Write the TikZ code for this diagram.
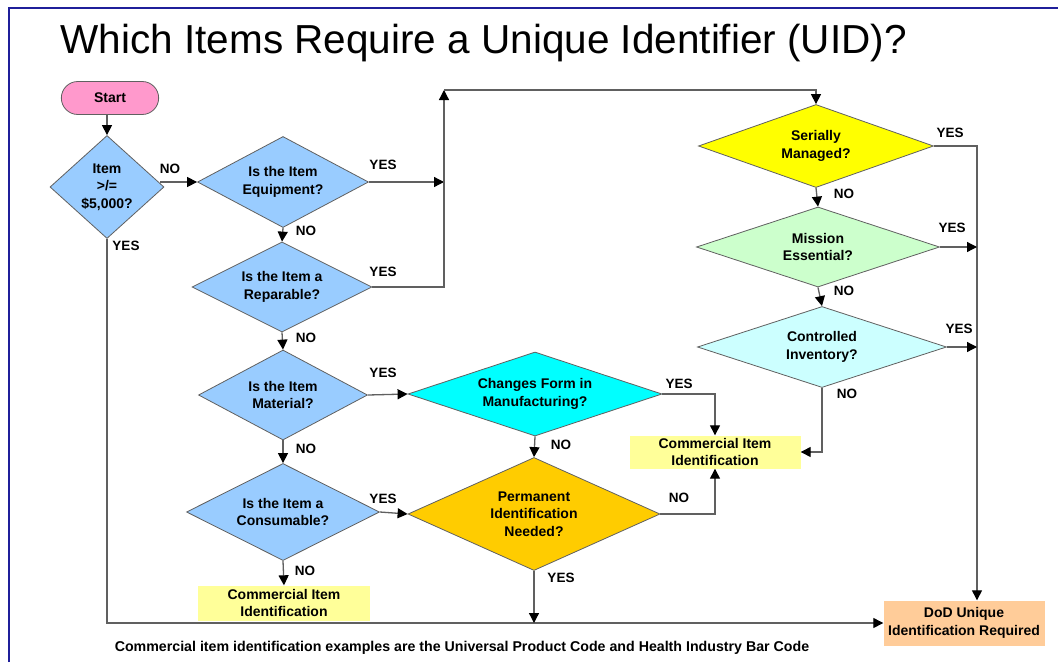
\documentclass[tikz,border=0pt]{standalone}
\usepackage{fontspec}
\setmainfont{Liberation Sans}
\usetikzlibrary{shapes.geometric,shapes.misc,arrows.meta}
\definecolor{framecol}{HTML}{1F1F9A}
\definecolor{linecol}{HTML}{606060}
\definecolor{pinkfill}{HTML}{FF99CC}
\definecolor{bluefill}{HTML}{99CCFF}
\definecolor{cyanfill}{HTML}{00FFFF}
\definecolor{goldfill}{HTML}{FFCC00}
\definecolor{yellowfill}{HTML}{FFFF00}
\definecolor{greenfill}{HTML}{CCFFCC}
\definecolor{icefill}{HTML}{CCFFFF}
\definecolor{paleyellow}{HTML}{FFFF99}
\definecolor{peach}{HTML}{FFCC99}
\begin{document}
\begin{tikzpicture}[x=1pt,y=-1pt,
  every node/.style={font=\fontsize{14}{17.5}\selectfont\bfseries, text=black},
  decision/.style={diamond, draw=linecol, line width=0.8pt, inner sep=0pt, align=center},
  dsize/.style n args={3}{minimum width=#1pt, minimum height=#2pt, aspect=#3},
  result/.style={rectangle, inner sep=0pt, align=center},
  conn/.style={draw=linecol, line width=1.3pt},
  arr/.style={conn, -{Triangle[length=10pt,width=10pt,color=black]}},
  ans/.style={font=\fontsize{13.5}{15}\selectfont\bfseries}
]
% page
\fill[white] (0,0) rectangle (1058,662);
\useasboundingbox (0,0) rectangle (1058,662);
\draw[framecol, line width=2pt] (9,662) -- (9,8) -- (1058,8);

% title
\node[anchor=base west, font=\fontsize{40.5}{44}\selectfont] (title) at (57,53)
  {Which Items Require a Unique Identifier (UID)?};

% start and left column of questions
\node[rounded rectangle, fill=pinkfill, draw=linecol, line width=0.8pt,
      minimum width=104pt, minimum height=33pt] (start) at (110,98) {Start};
\node[decision, fill=bluefill, dsize={114}{103}{1.1}] (d1) at (107,187)
  {Item\\>/=\\\$5,000?};
\node[decision, fill=bluefill, dsize={171}{91}{1.88}] (equip) at (283,182)
  {Is the Item\\Equipment?};
\node[decision, fill=bluefill, dsize={180}{90}{2.0}] (rep) at (282,287)
  {Is the Item a\\Reparable?};
\node[decision, fill=bluefill, dsize={169}{90}{1.88}] (mat) at (283,395)
  {Is the Item\\Material?};
\node[decision, fill=bluefill, dsize={193}{97}{1.99}] (cons) at (283,512)
  {Is the Item a\\Consumable?};
\node[result, fill=paleyellow, minimum width=172pt, minimum height=35pt] (cii1) at (284,603)
  {Commercial Item\\Identification};

% middle column
\node[decision, fill=cyanfill, dsize={254}{84}{3.0}] (chg) at (535,394)
  {Changes Form in\\Manufacturing?};
\node[decision, fill=goldfill, dsize={252}{113}{2.2}] (perm) at (534,514)
  {Permanent\\Identification\\Needed?};
\node[result, fill=paleyellow, minimum width=171pt, minimum height=33pt] (cii2) at (715,452)
  {Commercial Item\\Identification};

% right column
\node[decision, fill=yellowfill, dsize={235}{83}{2.8}] (ser) at (816,146)
  {Serially\\Managed?};
\node[decision, fill=greenfill, dsize={243}{80}{3.0}] (mis) at (818,247)
  {Mission\\Essential?};
\node[decision, fill=icefill, dsize={249}{81}{3.0}] (ctl) at (822,347)
  {Controlled\\Inventory?};
\node[result, fill=peach, minimum width=161pt, minimum height=45pt] (dod) at (964,623)
  {DoD Unique\\Identification Required};

% routing points
\coordinate (riser) at (444,90);
\coordinate (drop) at (977,146);

% connectors
\draw[arr] (start.south -| d1.north) -- (d1.north);
\draw[arr] ([xshift=-4pt]d1.east |- equip.west) -- (equip.west);
\draw[arr] (equip.east) -- (equip.east -| riser);
\draw[arr] (rep.east) -| (riser);
\draw[arr] (riser) -| (ser.north);
\draw[arr] (equip.south) -- (rep.north);
\draw[arr] (rep.south) -- (mat.north);
\draw[arr] (mat.east) -- (chg.west);
\draw[arr] (mat.south) -- (cons.north);
\draw[arr] (cons.east) -- (perm.west);
\draw[arr] (cons.south) -- (cii1.north);
\draw[arr] (d1.south) |- (dod.west);
\draw[arr] (perm.south) -- (perm.south |- dod.west);
\draw[arr] (chg.south) -- (perm.north);
\draw[arr] (chg.east) -| (cii2.north);
\draw[arr] (perm.east) -| (cii2.south);
\draw[arr] (ctl.south) |- (cii2.east);
\draw[arr] (ser.south) -- (mis.north);
\draw[arr] (mis.south) -- (ctl.north);
\draw[arr] (ser.east) -- (drop) -- (drop |- dod.north);
\draw[arr] (mis.east) -- (mis.east -| drop);
\draw[arr] (ctl.east) -- (ctl.east -| drop);

% answers
\node[ans] (l1) at (170,169) {NO};
\node[ans] (l2) at (126,246) {YES};
\node[ans] (l3) at (383,165) {YES};
\node[ans] (l4) at (306,231) {NO};
\node[ans] (l5) at (383,272) {YES};
\node[ans] (l6) at (306,338) {NO};
\node[ans] (l7) at (383,373) {YES};
\node[ans] (l8) at (306,449) {NO};
\node[ans] (l9) at (383,499) {YES};
\node[ans] (l10) at (305,571) {NO};
\node[ans] (l11) at (679,384) {YES};
\node[ans] (l12) at (561,445) {NO};
\node[ans] (l13) at (679,498) {NO};
\node[ans] (l14) at (561,578) {YES};
\node[ans] (l15) at (950,133) {YES};
\node[ans] (l16) at (844,194) {NO};
\node[ans] (l17) at (952,228) {YES};
\node[ans] (l18) at (844,291) {NO};
\node[ans] (l19) at (959,329) {YES};
\node[ans] (l20) at (847,394) {NO};

% footnote
\node[font=\fontsize{14.2}{16}\selectfont\bfseries] (note) at (462,648)
  {Commercial item identification examples are the Universal Product Code and Health Industry Bar Code};
\end{tikzpicture}
\end{document}
